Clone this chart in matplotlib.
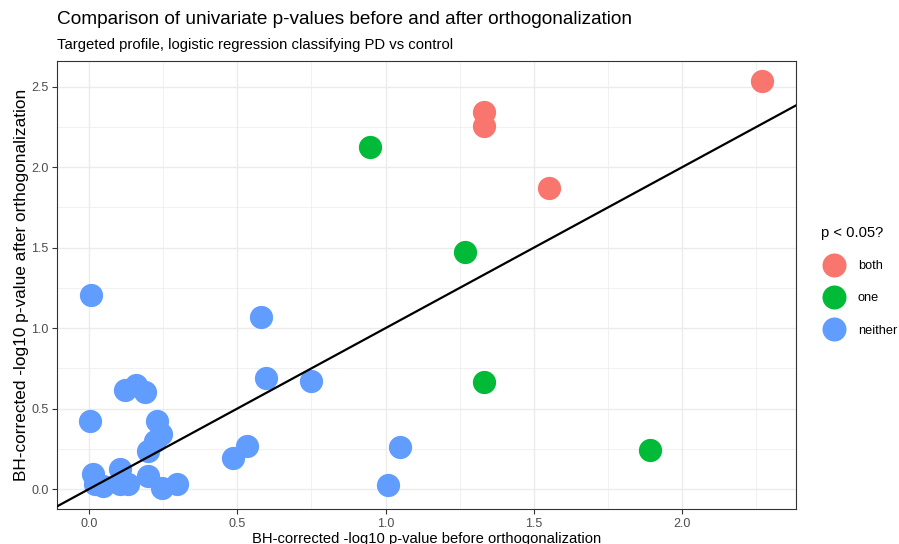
import matplotlib
matplotlib.use("Agg")
import matplotlib.pyplot as plt
from matplotlib.lines import Line2D
import numpy as np

plt.rcParams['font.family'] = ['Liberation Sans', 'DejaVu Sans']

# Data: before (x) and after (y) orthogonalization
both_x = [2.271, 1.331, 1.331, 1.550]
both_y = [2.537, 2.344, 2.257, 1.870]

one_x = [0.947, 1.267, 1.331, 1.891]
one_y = [2.126, 1.471, 0.667, 0.243]

neither_x = [0.007, 0.580, 0.597, 0.750, 0.003, 0.121, 0.159, 0.189, 0.228, 0.243,
             0.223, 0.199, 0.485, 0.534, 1.049, 1.008, 0.015, 0.105, 0.020, 0.047,
             0.105, 0.133, 0.200, 0.245, 0.296]
neither_y = [1.203, 1.066, 0.689, 0.673, 0.421, 0.617, 0.648, 0.604, 0.421, 0.343,
             0.300, 0.237, 0.195, 0.266, 0.262, 0.025, 0.095, 0.123, 0.031, 0.019,
             0.029, 0.029, 0.081, 0.008, 0.029]

groups = ["both", "one", "neither"]
colors = {"both": "#F8766D", "one": "#00BA38", "neither": "#619CFF"}

xticks = [0.0, 0.5, 1.0, 1.5, 2.0]
yticks = [0.0, 0.5, 1.0, 1.5, 2.0, 2.5]

fig = plt.figure(figsize=(8.99, 5.44), dpi=100)
ax = fig.add_axes([57/899, 1-509.3/544, (795.7-57)/899, (509.3-61)/544])

xlim = (-0.108, 2.383)
ylim = (-0.126, 2.660)
ax.set_xlim(*xlim)
ax.set_ylim(*ylim)

# grid
for v in np.arange(-0.25, 2.5, 0.25):
    major = abs(v*2 - round(v*2)) < 1e-9
    if xlim[0] < v < xlim[1]:
        ax.axvline(v, color="#EBEBEB", lw=1.0 if major else 0.5, zorder=0)
for v in np.arange(-0.25, 2.75, 0.25):
    major = abs(v*2 - round(v*2)) < 1e-9
    if ylim[0] < v < ylim[1]:
        ax.axhline(v, color="#EBEBEB", lw=1.0 if major else 0.5, zorder=0)

ms = 280
ax.scatter(neither_x, neither_y, s=ms, color=colors["neither"], linewidths=0, zorder=2)
ax.scatter(one_x, one_y, s=ms, color=colors["one"], linewidths=0, zorder=2)
ax.scatter(both_x, both_y, s=ms, color=colors["both"], linewidths=0, zorder=2)

ax.axline((0, 0), slope=1, color="black", lw=1.6, zorder=3)

ax.set_xticks(xticks)
ax.set_xticklabels([f"{t:.1f}" for t in xticks])
ax.set_yticks(yticks)
ax.set_yticklabels([f"{t:.1f}" for t in yticks])
ax.tick_params(axis="both", length=3.5, width=0.8, color="#333333",
               labelcolor="#4D4D4D", labelsize=9.0, pad=2.5)
for s in ax.spines.values():
    s.set_color("#333333")
    s.set_linewidth(0.8)

ax.set_xlabel("BH-corrected -log10 p-value before orthogonalization", fontsize=10.6, labelpad=2)
ax.set_ylabel("BH-corrected -log10 p-value after orthogonalization", fontsize=12.4, labelpad=2)

fig.text(57/899, 1-20/544, "Comparison of univariate p-values before and after orthogonalization",
         fontsize=13.7, va="center", ha="left")
fig.text(57/899, 1-45/544, "Targeted profile, logistic regression classifying PD vs control",
         fontsize=10.7, va="center", ha="left")

handles = [Line2D([], [], marker="o", ls="", markersize=17.3, markeredgewidth=0,
                  color=colors[g]) for g in groups]
leg = fig.legend(handles, groups, title="p < 0.05?", loc="upper left",
                 bbox_to_anchor=(812/899, 1-217/544), frameon=False,
                 fontsize=9.2, title_fontsize=10.6, labelspacing=1.58,
                 handletextpad=0.88, borderpad=0.2)
leg._legend_box.align = "left"

fig.savefig("out.png", dpi=100)
